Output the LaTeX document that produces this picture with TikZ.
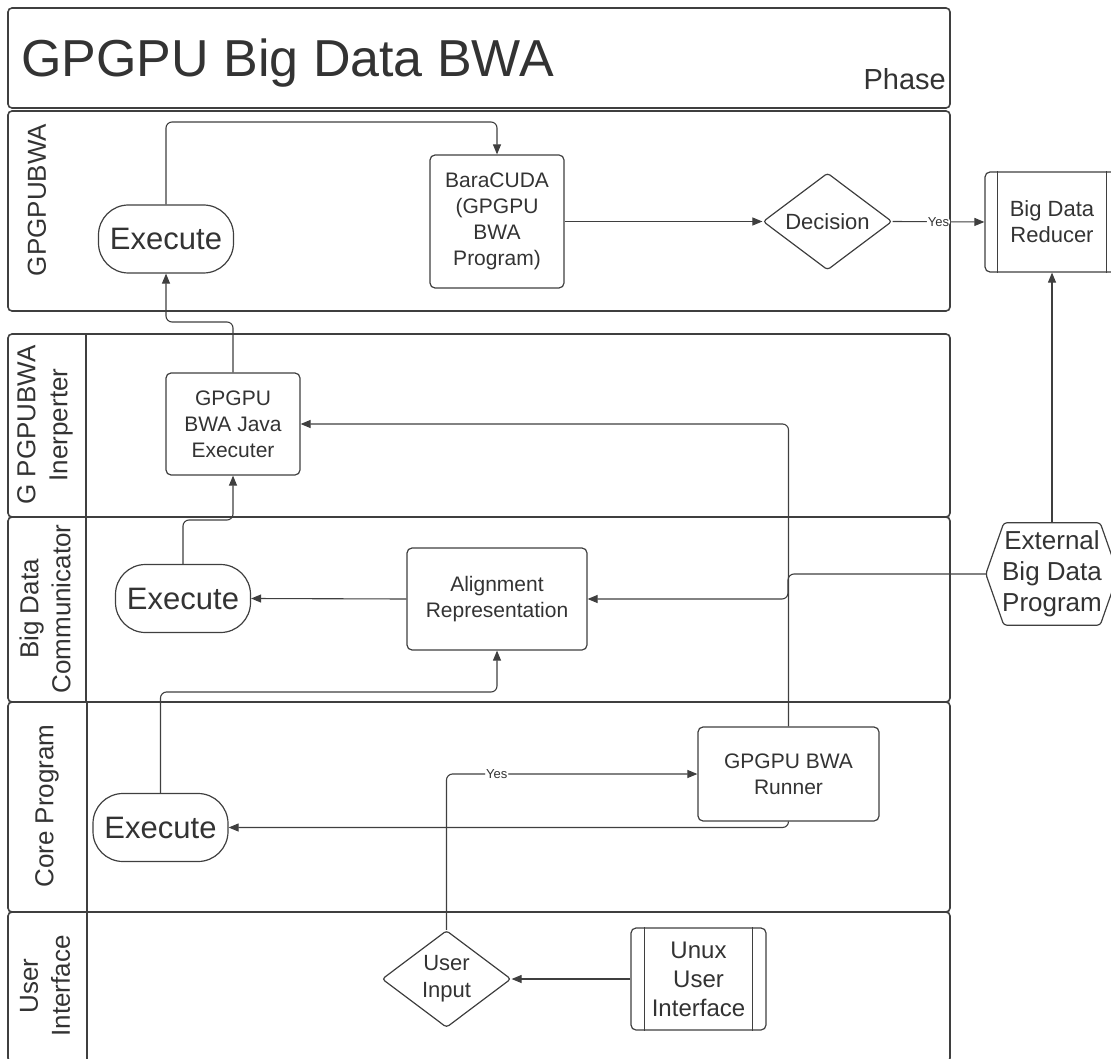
\documentclass[tikz,border=0pt]{standalone}
\usepackage{fontspec}
\setmainfont{Liberation Sans}
\usetikzlibrary{arrows.meta,shapes.geometric,calc}
\definecolor{ink}{HTML}{333333}
\definecolor{edge}{HTML}{3F3F3F}

\begin{document}
\begin{tikzpicture}[x=1pt,y=-1pt,
  lane/.style={draw=edge, line width=1.6pt, rounded corners=4pt},
  divider/.style={draw=edge, line width=1.6pt},
  lanelabel/.style={rotate=90, align=center, text=ink, inner sep=0pt,
    font=\fontsize{26}{32}\selectfont},
  box/.style={draw=edge, line width=1.2pt, rounded corners=5pt, align=center,
    text=ink, inner sep=0pt, font=\fontsize{21}{26}\selectfont},
  pill/.style={draw=edge, line width=1.2pt, rounded corners=30pt,
    minimum width=135pt, minimum height=68pt, text=ink, inner sep=0pt,
    font=\fontsize{31}{36}\selectfont},
  choice/.style={draw=edge, line width=1.2pt, shape=diamond, aspect=1.33,
    rounded corners=3pt, minimum width=129pt, minimum height=97pt,
    inner sep=0pt, align=center, text=ink, font=\fontsize{22}{27}\selectfont},
  subproc/.style={draw=edge, line width=1.2pt, rounded corners=5pt,
    align=center, text=ink, inner sep=0pt},
  hexlabel/.style={align=center, text=ink, inner sep=0pt,
    minimum width=132pt, minimum height=102pt,
    font=\fontsize{26}{31}\selectfont},
  shapeline/.style={draw=edge, line width=1.2pt, rounded corners=3pt},
  conn/.style={draw=edge, line width=1.1pt, rounded corners=6pt,
    -{Triangle[length=10pt,width=8pt]}},
  yeslabel/.style={fill=white, inner sep=1pt, text=ink,
    font=\fontsize{13}{15}\selectfont}
]
\useasboundingbox (0,0) rectangle (1111,1059);

% ---- header and swimlanes ----
\draw[lane] (8,8) rectangle (950,108);
\draw[lane] (8,111) rectangle (950,311);
\draw[lane] (8,334) rectangle (950,517);
\draw[lane] (8,517) rectangle (950,702);
\draw[lane] (8,702) rectangle (950,912);
\draw[lane] (8,912) rectangle (950,1062);
\draw[divider] (86,334) -- (86,702);
\draw[divider] (87,702) -- (87,1059);

\node[anchor=base west, inner sep=0pt, text=ink, font=\fontsize{52}{60}\selectfont]
  (title) at (21,77) {GPGPU Big Data BWA};
\node[anchor=base east, inner sep=0pt, text=ink, font=\fontsize{29}{34}\selectfont]
  (phase) at (946,90) {Phase};

\node[lanelabel] (lbl1) at (37,200) {GPGPUBWA};
\node[lanelabel] (lbl2) at (45,425) {G PGPUBWA\\Inerperter};
\node[lanelabel] (lbl3) at (45,609) {Big Data\\Communicator};
\node[lanelabel] (lbl4) at (47,806) {Core Program};
\node[lanelabel] (lbl5) at (45,986) {User\\Interface};

% ---- process nodes ----
\node[pill] (exec1) at (166,239) {Execute};
\node[box, minimum width=134pt, minimum height=133pt] (bara) at (497,221.5)
  {BaraCUDA\\(GPGPU\\BWA\\Program)};
\node[choice] (dec) at (827.5,221.5) {Decision};

\node[subproc, minimum width=134pt, minimum height=100pt,
  font=\fontsize{22}{26}\selectfont] (red) at (1052,222) {Big Data\\Reducer};
\draw[draw=edge, line width=1.2pt] ($(red.north west)+(13,0)$) -- ($(red.south west)+(13,0)$);
\draw[draw=edge, line width=1.2pt] ($(red.north east)+(-13,0)$) -- ($(red.south east)+(-13,0)$);

\node[box, minimum width=134pt, minimum height=102pt] (jexec) at (233,424)
  {GPGPU\\BWA Java\\Executer};

\node[hexlabel] (ext) at (1052,574) {External\\Big Data\\Program};
\draw[shapeline] (ext.west) -- ($(ext.north west)+(18,0)$) -- ($(ext.north east)+(-18,0)$)
  -- (ext.east) -- ($(ext.south east)+(-18,0)$) -- ($(ext.south west)+(18,0)$) -- cycle;

\node[pill] (exec2) at (183,598.5) {Execute};
\node[box, minimum width=180pt, minimum height=102pt] (align) at (497,599)
  {Alignment\\Representation};

\node[pill] (exec3) at (160.5,827.5) {Execute};
\node[box, minimum width=181pt, minimum height=94pt] (run) at (788.5,774)
  {GPGPU BWA\\Runner};

\node[choice] (uin) at (446.5,979) {User\\Input};
\node[subproc, minimum width=135pt, minimum height=102pt,
  font=\fontsize{24}{29}\selectfont] (unux) at (698.5,979) {Unux\\User\\Interface};
\draw[draw=edge, line width=1.2pt] ($(unux.north west)+(14,0)$) -- ($(unux.south west)+(14,0)$);
\draw[draw=edge, line width=1.2pt] ($(unux.north east)+(-14,0)$) -- ($(unux.south east)+(-14,0)$);

% ---- routing levels ----
\coordinate (yA) at (0,122);
\coordinate (yB) at (0,322);
\coordinate (yC) at (0,520);
\coordinate (yD) at (0,692);
\coordinate (xJ) at (788,0);

% ---- connectors ----
\draw[conn] (exec1.north) -- (exec1.north |- yA) -| (bara.north);
\draw[conn] (bara.east) -- (dec.west);
\draw[conn] (dec.east) -- node[yeslabel] {Yes} (red.west);
\draw[conn] (ext.north) -- (red.south);
\draw[conn] (jexec.north) -- (jexec.north |- yB) -| (exec1.south);
\draw[conn] (run.north) |- (jexec.east);
\draw[conn] (ext.west) -- (xJ |- ext.west) -- (xJ |- align.east) -- (align.east);
\draw[conn] (align.west) -- (exec2.east);
\draw[conn] (exec2.north) -- (exec2.north |- yC) -| (jexec.south);
\draw[conn] (exec3.north) -- (exec3.north |- yD) -| (align.south);
\draw[conn] (run.south) |- (exec3.east);
\draw[conn] (uin.north) |- node[yeslabel, pos=0.6] {Yes} (run.west);
\draw[conn] (unux.west) -- (uin.east);
\end{tikzpicture}
\end{document}
